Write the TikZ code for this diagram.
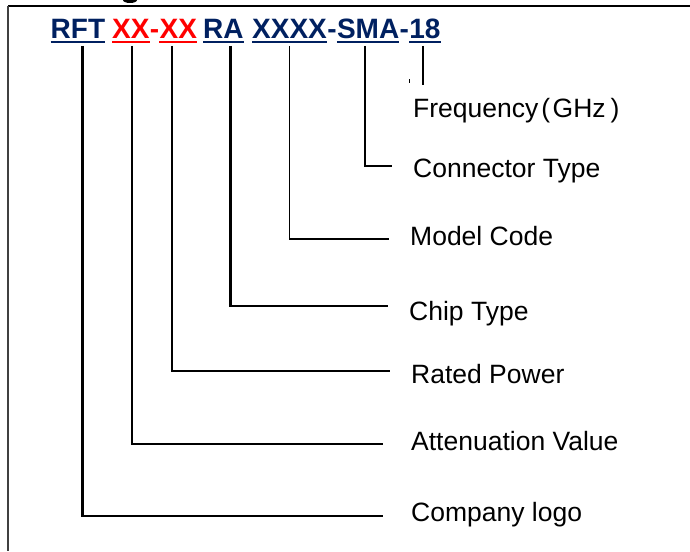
\documentclass[tikz,border=0pt]{standalone}
\usepackage{fontspec}
\setmainfont{Liberation Sans}
\definecolor{navy}{HTML}{002060}
\definecolor{codered}{HTML}{FF0000}
\tikzset{
  seg/.style={anchor=base west, inner sep=0pt, text depth=0pt, font=\fontsize{28}{30}\selectfont\bfseries},
  navyseg/.style={seg, text=navy},
  redseg/.style={seg, text=codered},
  lab/.style={anchor=base west, inner sep=0pt, font=\fontsize{26.5}{30}\selectfont},
  thickline/.style={line width=2.7pt},
  midline/.style={line width=2.1pt},
  thinline/.style={line width=1.6pt},
}
\newcommand{\ul}[2]{\draw[line width=2pt,#2] ([yshift=-4.5pt]#1.base west) -- ([yshift=-4.5pt]#1.base east);}
\begin{document}
\begin{tikzpicture}[x=1pt,y=-1pt]
\useasboundingbox (0,0) rectangle (690,551);
% frame
\draw[line width=2.3pt] (8,6) -- (690,6);
\draw[line width=1.3pt, black!75] (8,6) -- (8,551);
% cropped title fragment
\fill (130,0) ellipse [x radius=7pt, y radius=3pt];
% code segments
\node[navyseg] (rft) at (50.5,38) {RFT};
\node[redseg] (xx1) at (112,38) {XX};
\node[redseg] (d1) at (xx1.base east) {-};
\node[redseg] (xx2) at (d1.base east) {XX};
\node[navyseg] (ra) at (203,38) {RA};
\node[navyseg] (xxxx) at (252,38) {XXXX};
\node[navyseg] (d2) at (xxxx.base east) {-};
\node[navyseg] (sma) at (d2.base east) {SMA};
\node[navyseg] (d3) at (sma.base east) {-};
\node[navyseg] (n18) at (d3.base east) {18};
\ul{rft}{navy}
\ul{xx1}{codered}
\ul{xx2}{codered}
\ul{ra}{navy}
\ul{xxxx}{navy}
\ul{sma}{navy}
\ul{n18}{navy}
% labels
\node[lab] (lfreq) at (413,117) {Frequency\kern3pt(\kern2.5pt GHz\kern5pt)};
\node[lab] (lconn) at (413,177) {Connector Type};
\node[lab] (lmodel) at (410,245) {Model Code};
\node[lab] (lchip) at (409,320) {Chip Type};
\node[lab] (lrated) at (411,383) {Rated Power};
\node[lab] (latten) at (411,450) {Attenuation Value};
\node[lab] (lcomp) at (411,521) {Company logo};
% connector ends
\coordinate (cfreq) at (423,85);
\coordinate (cconn) at (392,166);
\coordinate (cmodel) at (389,239);
\coordinate (cchip) at (388,306);
\coordinate (crated) at (390,371);
\coordinate (catten) at (383,444);
\coordinate (ccomp) at (383,516);
\coordinate (mk1) at (409,79);
\coordinate (mk2) at (409,83);
% connectors
\draw[thickline] ([xshift=4.3pt,yshift=-8pt]rft.base) |- (ccomp);
\draw[midline] ([xshift=1.3pt,yshift=-8pt]xx1.base) |- (catten);
\draw[thinline] ([xshift=-6.4pt,yshift=-8pt]xx2.base) |- (crated);
\draw[thickline] ([xshift=6.8pt,yshift=-8pt]ra.base) |- (cchip);
\draw[thinline] ([yshift=-8pt]xxxx.base) |- (cmodel);
\draw[thinline] ([xshift=-3pt,yshift=-8pt]sma.base) |- (cconn);
\draw[line width=1.3pt] ([yshift=-8pt]n18.base -| cfreq) -- (cfreq);
\draw[line width=0.8pt] (mk1) -- (mk2);
\end{tikzpicture}
\end{document}
